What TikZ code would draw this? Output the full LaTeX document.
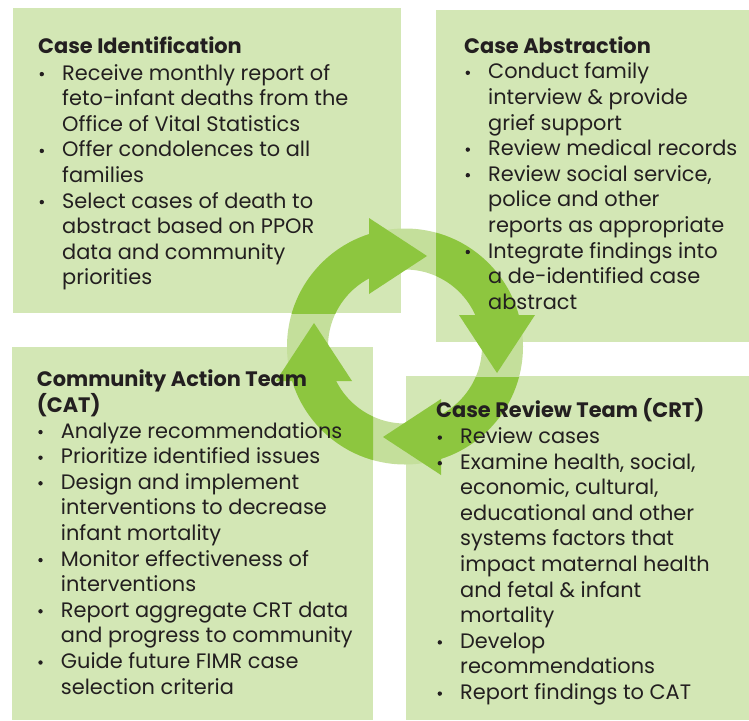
\documentclass[tikz,border=0pt]{standalone}
\usepackage{fontspec}
\setmainfont{Poppins}
\definecolor{boxc}{HTML}{D3E7B5}
\definecolor{ringc}{HTML}{C4DF9B}
\definecolor{arrc}{HTML}{8DC63F}
\definecolor{txtc}{HTML}{231F20}
\newcommand{\itm}[1]{\makebox[24pt][l]{\hspace{1.4pt}\raisebox{3.8pt}{\tikz\fill[txtc] (0pt,0pt) circle (2.2pt);}}#1}
\newcommand{\cnt}[1]{\hspace*{24pt}#1}
\newcommand{\fst}{\rule{0pt}{18pt}}
\tikzset{
  panel/.style={fill=boxc, draw=none, inner sep=0pt, anchor=north west},
  blocktext/.style={anchor=north west, inner sep=0pt, align=left, text=txtc,
    font=\fontsize{20.9}{25.6}\selectfont},
  ringfill/.style={fill=ringc, even odd rule},
  arrowfill/.style={fill=arrc, even odd rule},
}
\begin{document}
\begin{tikzpicture}[x=1pt,y=-1pt]
\useasboundingbox (0,0) rectangle (749,720);
% panels
\node[panel, minimum width=388pt, minimum height=305pt] (tl) at (13,8) {};
\node[panel, minimum width=313pt, minimum height=332pt] (tr) at (436,10) {};
\node[panel, minimum width=361pt, minimum height=373pt] (bl) at (12,347) {};
\node[panel, minimum width=343pt, minimum height=344pt] (br) at (406,376) {};
% cycle ring
\coordinate (c) at (405,346.5);
\fill[ringfill] (c) circle (118pt) (c) circle (77pt);
\begin{scope}
  \clip (0,0) rectangle (369,313);
  \fill[arrowfill] (c) circle (118pt) (c) circle (77pt);
\end{scope}
\begin{scope}
  \clip (436,0) rectangle (749,315);
  \fill[arrowfill] (c) circle (118pt) (c) circle (77pt);
\end{scope}
\begin{scope}
  \clip (441,377) rectangle (749,720);
  \fill[arrowfill] (c) circle (118pt) (c) circle (77pt);
\end{scope}
\begin{scope}
  \clip (0,381) rectangle (373,720);
  \fill[arrowfill] (c) circle (118pt) (c) circle (77pt);
\end{scope}
% arrowheads
\coordinate (h1a) at (369,218); \coordinate (h1b) at (369,294); \coordinate (h1t) at (427,256);
\coordinate (h2a) at (459,315); \coordinate (h2b) at (535,315); \coordinate (h2t) at (497,373);
\coordinate (h3a) at (441,399); \coordinate (h3b) at (441,475); \coordinate (h3t) at (383,437);
\coordinate (h4a) at (276,381); \coordinate (h4b) at (352,381); \coordinate (h4t) at (314,323);
\fill[arrc] (h1a) -- (h1t) -- (h1b) -- cycle;
\fill[arrc] (h2a) -- (h2t) -- (h2b) -- cycle;
\fill[arrc] (h3a) -- (h3t) -- (h3b) -- cycle;
\fill[arrc] (h4a) -- (h4t) -- (h4b) -- cycle;
% texts
\node[blocktext] (tltext) at (38,35.3) {\fst\textbf{Case Identification}\\[1pt]
\itm{Receive monthly report of}\\
\cnt{feto-infant deaths from the}\\
\cnt{Office of Vital Statistics}\\
\itm{Offer condolences to all}\\
\cnt{families}\\
\itm{Select cases of death to}\\
\cnt{abstract based on PPOR}\\
\cnt{data and community}\\
\cnt{priorities}};
\node[blocktext] (trtext) at (464,35) {\fst\textbf{Case Abstraction}\\
\itm{Conduct family}\\
\cnt{interview \& provide}\\
\cnt{grief support}\\
\itm{Review medical records}\\
\itm{Review social service,}\\
\cnt{police and other}\\
\cnt{reports as appropriate}\\
\itm{Integrate findings into}\\
\cnt{a de-identified case}\\
\cnt{abstract}};
\node[blocktext] (bltext) at (36.7,368.7) {\fst\textbf{Community Action Team}\\
\textbf{(CAT)}\\
\itm{Analyze recommendations}\\
\itm{Prioritize identified issues}\\
\itm{Design and implement}\\
\cnt{interventions to decrease}\\
\cnt{infant mortality}\\
\itm{Monitor effectiveness of}\\
\cnt{interventions}\\
\itm{Report aggregate CRT data}\\
\cnt{and progress to community}\\
\itm{Guide future FIMR case}\\
\cnt{selection criteria}};
\node[blocktext] (brtext) at (436,398.7) {\fst\textbf{Case Review Team (CRT)}\\
\itm{Review cases}\\
\itm{Examine health, social,}\\
\cnt{economic, cultural,}\\
\cnt{educational and other}\\
\cnt{systems factors that}\\
\cnt{impact maternal health}\\
\cnt{and fetal \& infant}\\
\cnt{mortality}\\
\itm{Develop}\\
\cnt{recommendations}\\
\itm{Report findings to CAT}};
\end{tikzpicture}
\end{document}
